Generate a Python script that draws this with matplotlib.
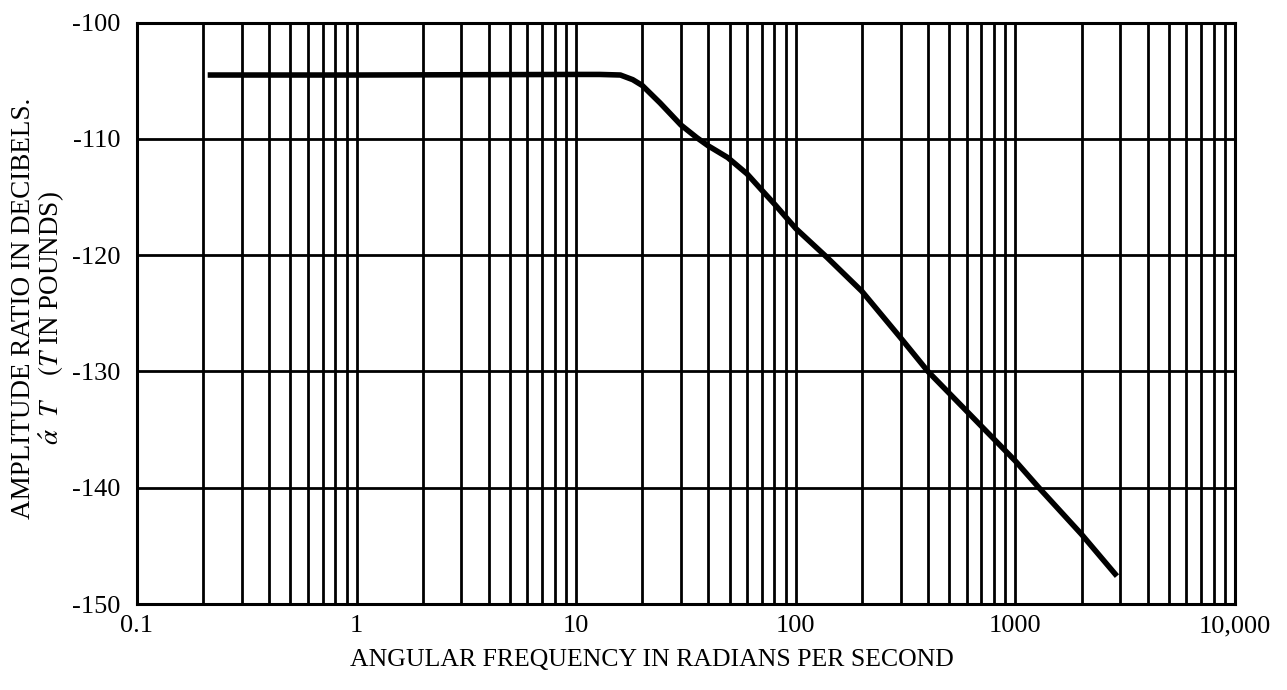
import matplotlib
matplotlib.use("Agg")
import matplotlib.pyplot as plt
from matplotlib.ticker import FixedLocator, FuncFormatter, LogLocator, NullFormatter

plt.rcParams["font.family"] = ["Liberation Serif", "DejaVu Serif"]
plt.rcParams["mathtext.fontset"] = "stix"

# Amplitude ratio response (dB) versus angular frequency (rad/s)
frequency = [0.21, 1, 10, 12.8, 15.9, 18.1, 20, 24.1, 30, 35.5, 40, 49, 60,
             70, 80, 100, 139, 200, 300, 400, 1000, 1280, 2000, 2900]
amplitude_db = [-104.5, -104.5, -104.45, -104.45, -104.5, -104.9, -105.4,
                -106.9, -108.8, -109.9, -110.6, -111.6, -113.0, -114.4,
                -115.6, -117.7, -120.2, -123.1, -127.1, -130.0, -137.7,
                -140.0, -144.0, -147.6]

x_ticks = [0.1, 1, 10, 100, 1000, 10000]
x_tick_labels = ["0.1", "1", "10", "100", "1000", "10,000"]
y_ticks = [-150, -140, -130, -120, -110, -100]

fig = plt.figure(figsize=(12.87, 6.90), dpi=100)
ax = fig.add_axes([0.1064, 0.1246, 0.8532, 0.8425])

ax.set_xscale("log")
ax.set_xlim(0.1, 10000)
ax.set_ylim(-150, -100)

ax.xaxis.set_major_locator(FixedLocator(x_ticks))
ax.xaxis.set_minor_locator(LogLocator(base=10, subs=range(2, 10)))
ax.xaxis.set_minor_formatter(NullFormatter())
ax.set_xticks(x_ticks)
ax.set_xticklabels(x_tick_labels)
ax.set_yticks(y_ticks)
ax.yaxis.set_major_formatter(FuncFormatter(lambda v, p: "-%d" % abs(v)))

ax.grid(True, which="both", axis="x", color="black", linewidth=2.0)
ax.grid(True, which="major", axis="y", color="black", linewidth=2.0)
ax.set_axisbelow(True)

for s in ax.spines.values():
    s.set_linewidth(2.2)
    s.set_color("black")

ax.tick_params(axis="both", which="both", length=0)
ax.tick_params(axis="y", pad=12, labelsize=19)
ax.tick_params(axis="x", pad=8, labelsize=19)

ax.plot(frequency, amplitude_db, color="black", linewidth=4.0,
        solid_joinstyle="round", solid_capstyle="butt", zorder=5)

fig.text(0.5066, 0.044, "ANGULAR FREQUENCY IN RADIANS PER SECOND",
         ha="center", va="center", fontsize=18.5)
fig.text(0.018, 0.553, "AMPLITUDE RATIO IN DECIBELS.",
         rotation=90, ha="center", va="center", fontsize=19.5)
fig.text(0.040, 0.539, r"$\acute{\alpha}\ \ T\ \ \ \ (T$ IN POUNDS)",
         rotation=90, ha="center", va="center", fontsize=19.5)

fig.savefig("out.png", dpi=100, facecolor="white")
